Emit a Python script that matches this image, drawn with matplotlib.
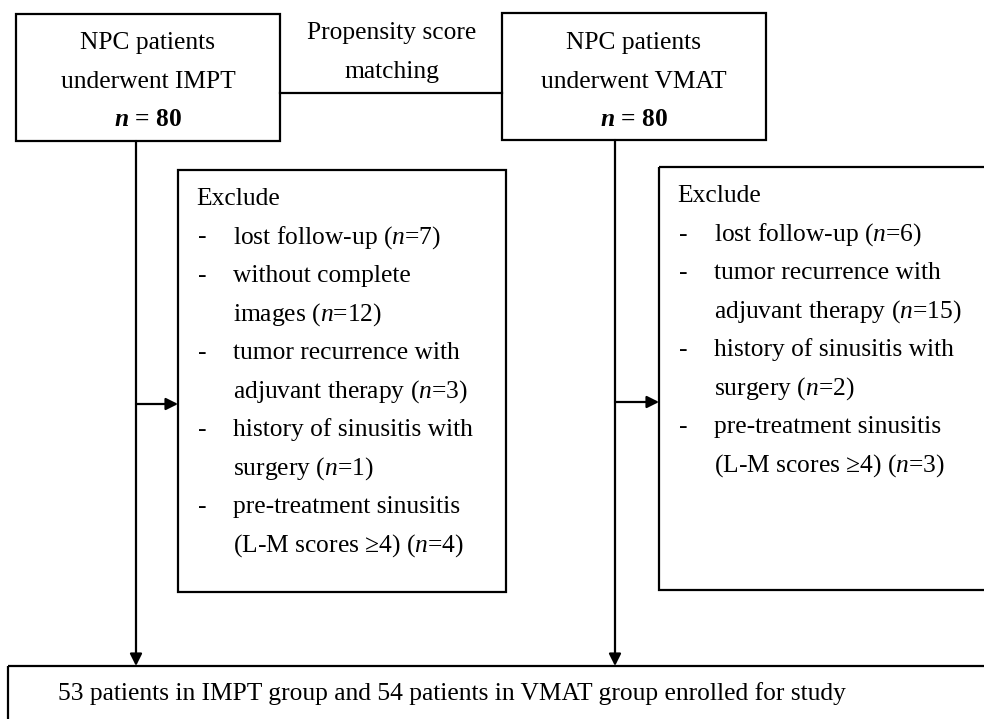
import matplotlib
matplotlib.use("Agg")
import matplotlib.pyplot as plt
from matplotlib.patches import Rectangle

plt.rcParams['font.family'] = ['Liberation Serif', 'DejaVu Serif']
plt.rcParams['mathtext.fontset'] = 'custom'
plt.rcParams['mathtext.rm'] = 'Liberation Serif'
plt.rcParams['mathtext.it'] = 'Liberation Serif:italic'
plt.rcParams['mathtext.bf'] = 'Liberation Serif:bold'
plt.rcParams['mathtext.bfit'] = 'Liberation Serif:italic:bold'

# data
groups = ["IMPT", "VMAT"]
n_start = [80, 80]
impt_excl = ["lost follow-up", "without complete\nimages", "tumor recurrence with\nadjuvant therapy",
             "history of sinusitis with\nsurgery", "pre-treatment sinusitis\n(L-M scores \u22654)"]
impt_n = [7, 12, 3, 1, 4]
vmat_excl = ["lost follow-up", "tumor recurrence with\nadjuvant therapy",
             "history of sinusitis with\nsurgery", "pre-treatment sinusitis\n(L-M scores \u22654)"]
vmat_n = [6, 15, 2, 3]
n_final = [53, 54]
match_label = ["Propensity score", "matching"]

FS = 18.4
LW = 1.6
LINE_H = 38.5

fig = plt.figure(figsize=(9.84, 7.19), dpi=100)
ax = fig.add_axes([0, 0, 1, 1])
ax.set_xlim(0, 984)
ax.set_ylim(719, 0)
ax.axis('off')


def box(x0, y0, x1, y1):
    ax.add_patch(Rectangle((x0, y0), x1 - x0, y1 - y0, fill=False, lw=LW, ec='black'))


def arrow(x0, y0, x1, y1):
    ax.annotate("", xy=(x1, y1), xytext=(x0, y0),
                arrowprops=dict(arrowstyle="-|>", lw=LW, color='black',
                                mutation_scale=18, shrinkA=0, shrinkB=0))


def top_box(x0, y0, x1, y1, grp, n):
    box(x0, y0, x1, y1)
    cx = (x0 + x1) / 2
    ax.text(cx, 43, "NPC patients", ha='center', va='center', fontsize=FS)
    ax.text(cx, 82, "underwent " + grp, ha='center', va='center', fontsize=FS)
    ax.text(cx, 120, r"$\mathbfit{n}$ = %d" % n, ha='center', va='center',
            fontsize=FS, fontweight='bold')


def excl_box(x0, y0, x1, y1, items, counts):
    box(x0, y0, x1, y1)
    y = y0 + 29
    ax.text(x0 + 18, y, "Exclude", ha='left', va='center', fontsize=FS)
    for item, c in zip(items, counts):
        y += LINE_H
        ax.text(x0 + 20, y, "-", ha='left', va='center', fontsize=FS)
        lines = item.split("\n")
        lines[-1] = lines[-1] + r" ($\mathit{n}$=%d)" % c
        for k, ln in enumerate(lines):
            if k > 0:
                y += LINE_H
            ax.text(x0 + 55, y, ln, ha='left', va='center', fontsize=FS)


# top boxes and matching line
top_box(16, 14, 280, 141, groups[0], n_start[0])
top_box(502, 13, 766, 140, groups[1], n_start[1])
ax.plot([280, 502], [93, 93], color='black', lw=LW)
ax.text(392, 33, match_label[0], ha='center', va='center', fontsize=FS)
ax.text(392, 72, match_label[1], ha='center', va='center', fontsize=FS)

# exclusion boxes
excl_box(178, 170, 506, 592, impt_excl, impt_n)
excl_box(659, 167, 990, 590, vmat_excl, vmat_n)

# flow lines
arrow(136, 141, 136, 666)
arrow(136, 404, 178, 404)
arrow(615, 140, 615, 666)
arrow(615, 402, 659, 402)

# bottom box
box(8, 666, 990, 730)
ax.text(452, 694, "%d patients in IMPT group and %d patients in VMAT group enrolled for study"
        % (n_final[0], n_final[1]), ha='center', va='center', fontsize=FS)

fig.savefig("out.png", dpi=100, facecolor='white')
